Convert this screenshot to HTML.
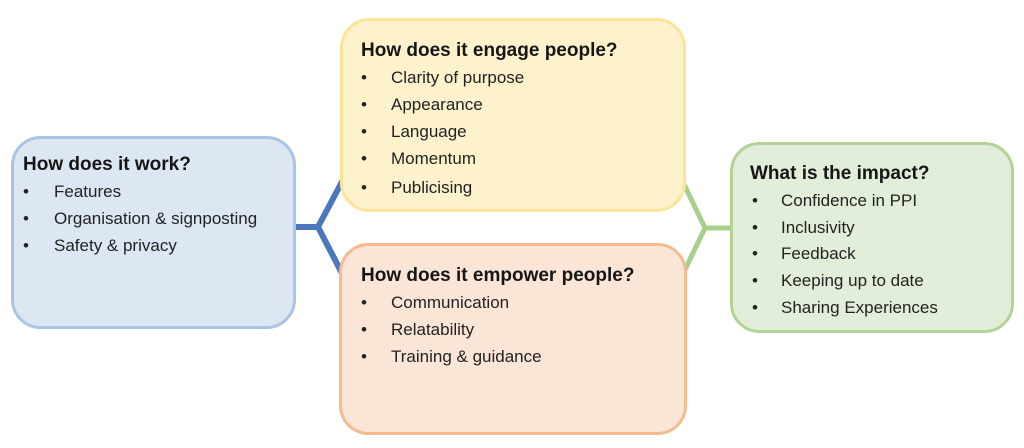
<!DOCTYPE html>
<html>
<head>
<meta charset="utf-8">
<style>
  html,body{margin:0;padding:0;background:#fff;}
  svg{display:block;}
  .t{font-family:"Liberation Sans",Arial,sans-serif;font-weight:bold;font-size:19px;fill:#161616;}
  .i{font-family:"Liberation Sans",Arial,sans-serif;font-size:17px;fill:#222;}
</style>
</head>
<body>
<svg width="1024" height="448" viewBox="0 0 1024 448" xmlns="http://www.w3.org/2000/svg">
  <rect x="0" y="0" width="1024" height="448" fill="#fff"/>
  <!-- connectors -->
  <g fill="none" stroke="#4a77bd" stroke-width="6" stroke-linejoin="miter">
    <polyline points="292,227 318,227"/>
    <polyline points="345,176 318,227 345,279"/>
  </g>
  <g fill="none" stroke="#a9cf8c" stroke-width="5" stroke-linejoin="miter">
    <polyline points="734,228 705,228"/>
    <polyline points="680,176 705,228 680,280"/>
  </g>
  <!-- boxes -->
  <rect x="12.5" y="137.5" width="282" height="190" rx="28" ry="28" fill="#dde7f3" stroke="#a8c5e5" stroke-width="3"/>
  <rect x="341.5" y="19.5" width="343" height="191" rx="28" ry="28" fill="#fef2cc" stroke="#fde49b" stroke-width="3"/>
  <rect x="340.5" y="244.5" width="345" height="189" rx="28" ry="28" fill="#fbe5d7" stroke="#f5bb8f" stroke-width="3"/>
  <rect x="731.5" y="143.5" width="281" height="188" rx="28" ry="28" fill="#e3eeda" stroke="#b3d296" stroke-width="3"/>

  <!-- blue -->
  <text class="t" x="23" y="170">How does it work?</text>
  <text class="i" x="23" y="197">•</text><text class="i" x="54" y="197">Features</text>
  <text class="i" x="23" y="224">•</text><text class="i" x="54" y="224">Organisation &amp; signposting</text>
  <text class="i" x="23" y="251">•</text><text class="i" x="54" y="251">Safety &amp; privacy</text>

  <!-- yellow -->
  <text class="t" x="361" y="56">How does it engage people?</text>
  <text class="i" x="361" y="83">•</text><text class="i" x="391" y="83">Clarity of purpose</text>
  <text class="i" x="361" y="110">•</text><text class="i" x="391" y="110">Appearance</text>
  <text class="i" x="361" y="137">•</text><text class="i" x="391" y="137">Language</text>
  <text class="i" x="361" y="164">•</text><text class="i" x="391" y="164">Momentum</text>
  <text class="i" x="361" y="193">•</text><text class="i" x="391" y="193">Publicising</text>

  <!-- orange -->
  <text class="t" x="361" y="281">How does it empower people?</text>
  <text class="i" x="361" y="308">•</text><text class="i" x="391" y="308">Communication</text>
  <text class="i" x="361" y="335">•</text><text class="i" x="391" y="335">Relatability</text>
  <text class="i" x="361" y="362">•</text><text class="i" x="391" y="362">Training &amp; guidance</text>

  <!-- green -->
  <text class="t" x="750" y="179">What is the impact?</text>
  <text class="i" x="752" y="206">•</text><text class="i" x="781" y="206">Confidence in PPI</text>
  <text class="i" x="752" y="233">•</text><text class="i" x="781" y="233">Inclusivity</text>
  <text class="i" x="752" y="259">•</text><text class="i" x="781" y="259">Feedback</text>
  <text class="i" x="752" y="286">•</text><text class="i" x="781" y="286">Keeping up to date</text>
  <text class="i" x="752" y="313">•</text><text class="i" x="781" y="313">Sharing Experiences</text>
</svg>
</body>
</html>
